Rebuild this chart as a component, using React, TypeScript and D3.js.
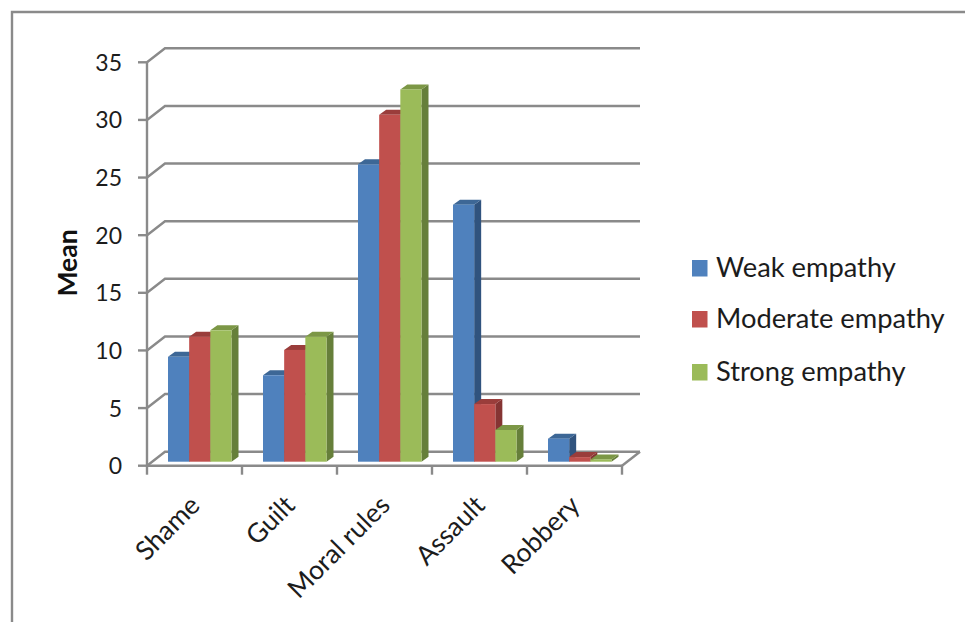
import React from "react";
import * as d3 from "d3";

// Mean scores per category, one array per empathy group
const categories = ["Shame", "Guilt", "Moral rules", "Assault", "Robbery"];
const weakEmpathy = [9.1, 7.5, 25.8, 22.3, 2.0];
const moderateEmpathy = [10.85, 9.7, 30.1, 5.0, 0.4];
const strongEmpathy = [11.4, 10.85, 32.3, 2.75, 0.2];
const yTicks = [0, 5, 10, 15, 20, 25, 30, 35];

const seriesNames = ["Weak empathy", "Moderate empathy", "Strong empathy"];
const seriesValues = [weakEmpathy, moderateEmpathy, strongEmpathy];
const frontColors = ["#4F81BD", "#C0504D", "#9BBB59"];
const topColors = ["#3D6796", "#9A3D3B", "#7C9746"];
const sideColors = ["#30537E", "#853433", "#667F3A"];

const WIDTH = 965;
const HEIGHT = 622;
const FONT = "Lato, 'Open Sans', sans-serif";
const AXIS = "#8A8A8A";
const TEXT = "#1c1c1c";

// Perspective offsets: back wall of the chart box, and depth of each bar
const wallDx = 18;
const wallDy = -14;
const barDx = 7;
const barDy = -5;
const barLift = 4;

const x = d3.scaleBand<string>().domain(categories).range([147, 622]).paddingInner(0).paddingOuter(0);
const y = d3.scaleLinear().domain([0, 35]).range([465.7, 62.3]);
const inner = d3
  .scaleBand<number>()
  .domain([0, 1, 2])
  .range([21, 84.5])
  .paddingInner(0);

const poly = (pts: [number, number][]) => {
  const p = d3.path();
  pts.forEach(([px, py], i) => (i ? p.lineTo(px, py) : p.moveTo(px, py)));
  p.closePath();
  return p.toString();
};

export default function App() {
  const x0 = x.range()[0];
  const x1 = x.range()[1];
  const ticksX = [...categories.map((c) => x(c) as number), x1];

  return (
    <svg
      width={WIDTH}
      height={HEIGHT}
      viewBox={`0 0 ${WIDTH} ${HEIGHT}`}
      style={{ position: "absolute", left: 0, top: 0, display: "block", background: "#fff" }}
    >
      {/* Frame around the chart area */}
      <path d={`M12 ${HEIGHT} V12 H${WIDTH}`} fill="none" stroke={AXIS} strokeWidth={2.4} />

      {/* Back wall gridlines with their diagonal runs to the front axis */}
      {yTicks.map((t) => (
        <path
          key={t}
          d={`M${x0} ${y(t)} L${x0 + wallDx} ${y(t) + wallDy} H${x1 + wallDx}`}
          fill="none"
          stroke={AXIS}
          strokeWidth={2.4}
        />
      ))}
      <path
        d={`M${x1} ${y(0)} L${x1 + wallDx} ${y(0) + wallDy}`}
        fill="none"
        stroke={AXIS}
        strokeWidth={2.4}
      />

      {/* Front axes and tick marks */}
      <path d={`M${x0} ${y(35)} V${y(0)} H${x1}`} fill="none" stroke={AXIS} strokeWidth={2.4} />
      {yTicks.map((t) => (
        <line key={t} x1={x0 - 9} x2={x0} y1={y(t)} y2={y(t)} stroke={AXIS} strokeWidth={2.4} />
      ))}
      {ticksX.map((tx) => (
        <line key={tx} x1={tx} x2={tx} y1={y(0)} y2={y(0) + 9} stroke={AXIS} strokeWidth={2.4} />
      ))}

      {/* 3D bars, drawn left to right so nearer faces overlap correctly */}
      {categories.map((c, ci) => (
        <g key={c}>
          {seriesValues.map((vals, si) => {
            const left = (x(c) as number) + (inner(si) as number);
            const w = inner.bandwidth();
            const right = left + w;
            const base = y(0) - barLift;
            const top = y(vals[ci]) - barLift;
            return (
              <g key={si}>
                <path
                  d={poly([
                    [right, base],
                    [right + barDx, base + barDy],
                    [right + barDx, top + barDy],
                    [right, top],
                  ])}
                  fill={sideColors[si]}
                />
                <path
                  d={poly([
                    [left, top],
                    [left + barDx, top + barDy],
                    [right + barDx, top + barDy],
                    [right, top],
                  ])}
                  fill={topColors[si]}
                />
                <rect x={left} y={top} width={w} height={base - top} fill={frontColors[si]} />
              </g>
            );
          })}
        </g>
      ))}

      {/* Value axis labels */}
      {yTicks.map((t) => (
        <text
          key={t}
          x={122}
          y={y(t) + 8.5}
          textAnchor="end"
          fontFamily={FONT}
          fontSize={23}
          fill={TEXT}
        >
          {t}
        </text>
      ))}
      <text
        transform="translate(77,263) rotate(-90)"
        textAnchor="middle"
        fontFamily={FONT}
        fontSize={26.5}
        fontWeight={700}
        fill="#111"
      >
        Mean
      </text>

      {/* Category labels */}
      {categories.map((c) => (
        <text
          key={c}
          transform={`translate(${(x(c) as number) + x.bandwidth() / 2 + 7},${507}) rotate(-45)`}
          textAnchor="end"
          fontFamily={FONT}
          fontSize={26.5}
          fill={TEXT}
        >
          {c}
        </text>
      ))}

      {/* Legend */}
      {seriesNames.map((name, i) => {
        const rowY = [260, 311, 364][i];
        return (
          <g key={name}>
            <rect x={692} y={rowY} width={15.5} height={16.5} fill={frontColors[i]} />
            <text x={716} y={rowY + 16.8} fontFamily={FONT} fontSize={27.3} fill={TEXT}>
              {name}
            </text>
          </g>
        );
      })}
    </svg>
  );
}
